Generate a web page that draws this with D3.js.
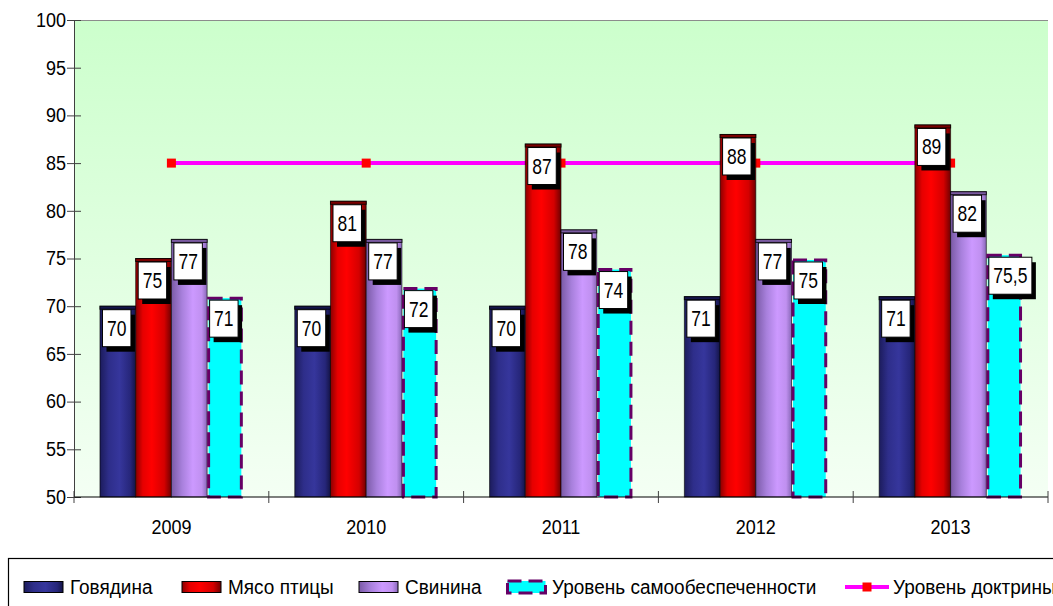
<!DOCTYPE html>
<html>
<head>
<meta charset="utf-8">
<script src="https://cdn.jsdelivr.net/npm/d3@7"></script>
<style>
  body { margin: 0; background: #fff; }
  svg { font-family: Arial, "Liberation Sans", sans-serif; }
</style>
</head>
<body>
<div id="chart"></div>
<script>
// data
var years = ["2009", "2010", "2011", "2012", "2013"];
var seriesNames = ["Говядина", "Мясо птицы", "Свинина", "Уровень самообеспеченности"];
var beef = [70, 70, 70, 71, 71];
var poultry = [75, 81, 87, 88, 89];
var pork = [77, 77, 78, 77, 82];
var selfSufficiency = [71, 72, 74, 75, 75.5];
var doctrineName = "Уровень доктрины";
var doctrine = [85, 85, 85, 85, 85];
var yTicks = [50, 55, 60, 65, 70, 75, 80, 85, 90, 95, 100];

var width = 1053, height = 606;
var plot = { left: 74, right: 1048, top: 20, bottom: 497 };

var svg = d3.select("#chart").append("svg")
  .attr("width", width)
  .attr("height", height);

var defs = svg.append("defs");

// plot area background
var bg = defs.append("linearGradient").attr("id", "plotBg")
  .attr("x1", 0).attr("y1", 0).attr("x2", 0).attr("y2", 1);
bg.append("stop").attr("offset", "0%").attr("stop-color", "#ccffcc");
bg.append("stop").attr("offset", "100%").attr("stop-color", "#f4fff4");

// cylinder-like fills for the bars
function barGradient(id, stops) {
  var g = defs.append("linearGradient").attr("id", id)
    .attr("x1", 0).attr("y1", 0).attr("x2", 1).attr("y2", 0);
  stops.forEach(function (s) {
    g.append("stop").attr("offset", s[0]).attr("stop-color", s[1]);
  });
}
barGradient("gBeef", [["0%", "#1c1c5c"], ["25%", "#2e2e8a"], ["55%", "#36369c"], ["85%", "#26267a"], ["100%", "#141446"]]);
barGradient("gPoultry", [["0%", "#8a0000"], ["20%", "#e60000"], ["45%", "#ff0000"], ["80%", "#d40000"], ["100%", "#700000"]]);
barGradient("gPork", [["0%", "#7a5aa6"], ["30%", "#a880dc"], ["60%", "#cc99ff"], ["85%", "#c090f0"], ["100%", "#8868b8"]]);

var fills = ["url(#gBeef)", "url(#gPoultry)", "url(#gPork)", "#00ffff"];
var tops = ["#15154a", "#7a0000", "#7a5aa0", "#00ffff"];

// text in the original is slightly stretched vertically
function stretch(sel, sy) {
  sel.each(function () {
    var t = d3.select(this);
    var tx = +t.attr("x") || 0, ty = +t.attr("y") || 0;
    t.attr("x", 0).attr("y", 0)
      .attr("transform", "translate(" + tx + "," + ty + ") scale(1," + sy + ")");
  });
}

var x0 = d3.scaleBand().domain(years).range([plot.left, plot.right]);
var x1 = d3.scaleBand().domain(seriesNames)
  .range([0, x0.bandwidth()]).paddingInner(0).paddingOuter(0.727);
var y = d3.scaleLinear().domain([50, 100]).range([plot.bottom, plot.top]);

svg.append("rect")
  .attr("x", plot.left).attr("y", plot.top)
  .attr("width", plot.right - plot.left).attr("height", plot.bottom - plot.top)
  .attr("fill", "url(#plotBg)");

svg.append("line")
  .attr("x1", plot.left).attr("x2", plot.right)
  .attr("y1", plot.top + 0.5).attr("y2", plot.top + 0.5)
  .attr("stroke", "#8c8c8c");

// doctrine line drawn behind the bars
var lineGen = d3.line()
  .x(function (d, i) { return x0(years[i]) + x0.bandwidth() / 2; })
  .y(function (d) { return y(d); });

svg.append("path")
  .datum(doctrine)
  .attr("d", lineGen)
  .attr("fill", "none")
  .attr("stroke", "#ff00ff")
  .attr("stroke-width", 4);

svg.selectAll(".marker")
  .data(doctrine)
  .enter().append("rect")
  .attr("class", "marker")
  .attr("x", function (d, i) { return x0(years[i]) + x0.bandwidth() / 2 - 4.5; })
  .attr("y", function (d) { return y(d) - 4.5; })
  .attr("width", 9).attr("height", 9)
  .attr("fill", "#ff0000");

var allSeries = [beef, poultry, pork, selfSufficiency];

var groups = svg.selectAll(".year")
  .data(years)
  .enter().append("g")
  .attr("class", "year")
  .attr("transform", function (d) { return "translate(" + x0(d) + ",0)"; });

groups.each(function (yr, i) {
  var g = d3.select(this);
  allSeries.forEach(function (vals, s) {
    var v = vals[i];
    var bx = x1(seriesNames[s]);
    var bw = x1.bandwidth();
    if (s < 3) {
      g.append("rect")
        .attr("x", bx).attr("y", y(v))
        .attr("width", bw).attr("height", y(50) - y(v))
        .attr("fill", fills[s])
        .attr("stroke", "#000").attr("stroke-opacity", 0.6).attr("stroke-width", 1);
      g.append("rect")
        .attr("x", bx).attr("y", y(v))
        .attr("width", bw).attr("height", 3)
        .attr("fill", tops[s])
        .attr("stroke", "#000").attr("stroke-opacity", 0.8).attr("stroke-width", 1);
    } else {
      g.append("rect")
        .attr("x", bx + 1.5).attr("y", y(v) + 1.5)
        .attr("width", bw - 3).attr("height", y(50) - y(v) - 1.5)
        .attr("fill", fills[s])
        .attr("stroke", "#660066").attr("stroke-width", 3)
        .attr("stroke-dasharray", "14,7");
    }
  });
});

// data labels
groups.each(function (yr, i) {
  var g = d3.select(this);
  allSeries.forEach(function (vals, s) {
    var v = vals[i];
    var bx = x1(seriesNames[s]);
    var txt = String(v).replace(".", ",");
    var lab = g.append("g");
    var t = lab.append("text")
      .attr("font-size", 17.5)
      .attr("text-anchor", "middle")
      .text(txt);
    var tw = t.node().getComputedTextLength();
    var w = tw + 9, h = 37;
    var lx = bx + 2.5, ly = y(v) + 3.5;
    lab.insert("rect", "text")
      .attr("x", lx + 4).attr("y", ly + 5)
      .attr("width", w).attr("height", h)
      .attr("fill", "#000");
    lab.insert("rect", "text")
      .attr("x", lx).attr("y", ly)
      .attr("width", w).attr("height", h)
      .attr("fill", "#fff")
      .attr("stroke", "#000").attr("stroke-width", 1);
    t.attr("x", lx + w / 2).attr("y", ly + h / 2 + 7.5);
    stretch(t, 1.22);
  });
});

// axes
var yAxis = d3.axisLeft(y).tickValues(yTicks).tickSizeInner(7).tickSizeOuter(0).tickPadding(3);
var ya = svg.append("g")
  .attr("transform", "translate(" + plot.left + ",0)")
  .call(yAxis);
ya.select(".domain").attr("stroke", "#404040");
ya.selectAll(".tick line").attr("x2", 7).attr("x1", -7).attr("stroke", "#404040");
ya.selectAll(".tick text").attr("font-size", 18).attr("fill", "#000")
  .attr("font-family", "Arial, 'Liberation Sans', sans-serif")
  .attr("x", -8)
  .attr("transform", "scale(1,1.1)");

var xa = svg.append("g")
  .attr("transform", "translate(0," + plot.bottom + ")");
xa.append("line")
  .attr("x1", plot.left).attr("x2", plot.right)
  .attr("stroke", "#000");
var boundaries = years.map(function (d) { return x0(d); }).concat([plot.right]);
xa.selectAll(".xtick")
  .data(boundaries)
  .enter().append("line")
  .attr("x1", function (d) { return d; }).attr("x2", function (d) { return d; })
  .attr("y1", -6).attr("y2", 6)
  .attr("stroke", "#404040");
xa.selectAll(".xlabel")
  .data(years)
  .enter().append("text")
  .attr("class", "xlabel")
  .attr("x", function (d) { return x0(d) + x0.bandwidth() / 2; })
  .attr("y", 37)
  .attr("text-anchor", "middle")
  .attr("font-size", 18)
  .text(function (d) { return d; });
stretch(xa.selectAll(".xlabel"), 1.1);

// legend
var legend = svg.append("g");
legend.append("rect")
  .attr("x", 8.5).attr("y", 558.5)
  .attr("width", 1100).attr("height", 100)
  .attr("fill", "#fff").attr("stroke", "#000").attr("stroke-width", 1.2);

var legendX = [24, 182, 359, 506, 845];
var legendItems = seriesNames.concat([doctrineName]);
legendItems.forEach(function (name, k) {
  var lx = legendX[k];
  var cy = 587;
  if (k < 3) {
    legend.append("rect")
      .attr("x", lx).attr("y", cy - 5.5)
      .attr("width", 39).attr("height", 11)
      .attr("fill", fills[k])
      .attr("stroke", "#000").attr("stroke-width", 1);
  } else if (k === 3) {
    legend.append("rect")
      .attr("x", lx + 1.5).attr("y", cy - 6)
      .attr("width", 38).attr("height", 12)
      .attr("fill", "#00ffff")
      .attr("stroke", "#660066").attr("stroke-width", 3)
      .attr("stroke-dasharray", "14,7");
  } else {
    legend.append("line")
      .attr("x1", lx).attr("x2", lx + 44)
      .attr("y1", cy).attr("y2", cy)
      .attr("stroke", "#ff00ff").attr("stroke-width", 4);
    legend.append("rect")
      .attr("x", lx + 22 - 4.5).attr("y", cy - 4.5)
      .attr("width", 9).attr("height", 9)
      .attr("fill", "#ff0000");
  }
  var t = legend.append("text")
    .attr("x", lx + (k === 4 ? 48 : 46))
    .attr("y", cy + 7)
    .attr("font-size", 19)
    .text(name);
  stretch(t, 1.08);
});
</script>
</body>
</html>
